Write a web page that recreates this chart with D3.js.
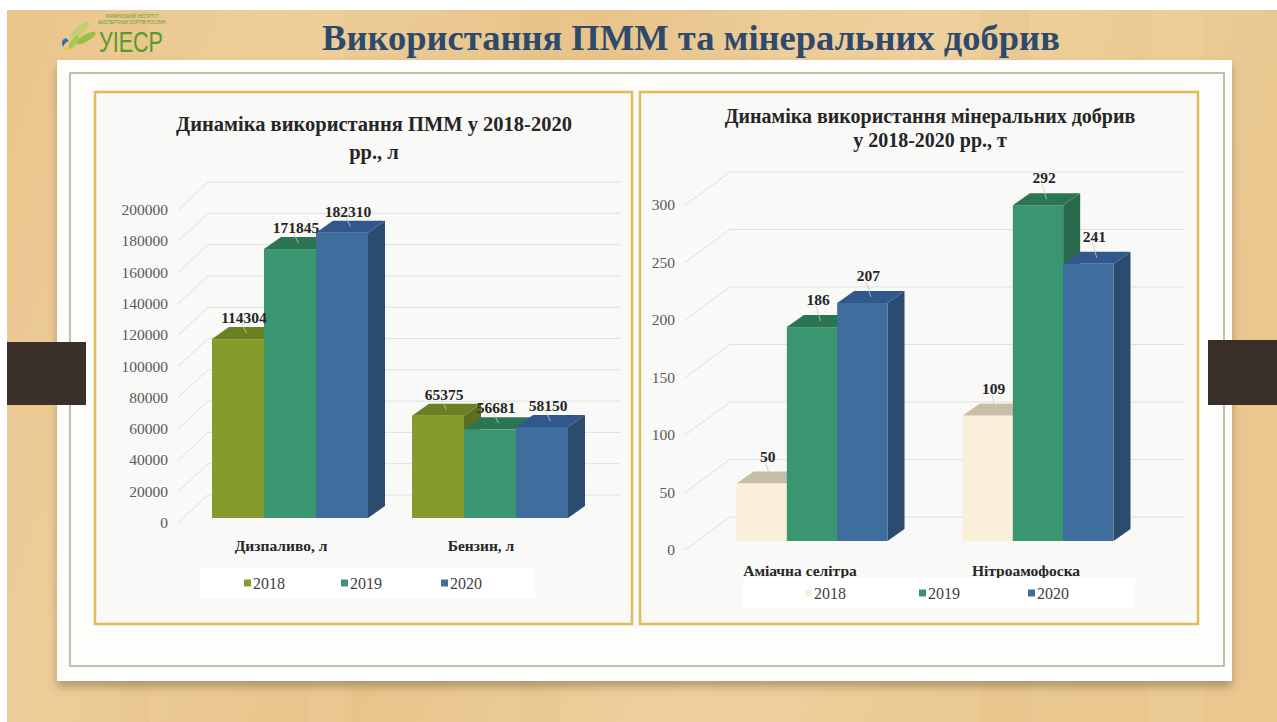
<!DOCTYPE html>
<html>
<head>
<meta charset="utf-8">
<script src="https://cdn.jsdelivr.net/npm/d3@7"></script>
<style>
  body { margin: 0; background: #fff; }
  svg { display: block; }
</style>
</head>
<body>
<svg id="slide" width="1277" height="722"></svg>
<script>
// ---- data ----
const mainTitle = "Використання ПММ та мінеральних добрив";
const years = ["2018", "2019", "2020"];

const fuelCategories = ["Дизпаливо, л", "Бензин, л"];
const fuel2018 = [114304, 65375];
const fuel2019 = [171845, 56681];
const fuel2020 = [182310, 58150];
const fuelTicks = [0, 20000, 40000, 60000, 80000, 100000, 120000, 140000, 160000, 180000, 200000];

const fertCategories = ["Аміачна селітра", "Нітроамофоска"];
const fert2018 = [50, 109];
const fert2019 = [186, 292];
const fert2020 = [207, 241];
const fertTicks = [0, 50, 100, 150, 200, 250, 300];

const serif = "'Liberation Serif', 'DejaVu Serif', serif";

let svg = d3.select("#slide");
let defs = svg.append("defs");

// wood background
let wood = defs.append("linearGradient").attr("id", "wood")
    .attr("x1", 0).attr("x2", 1).attr("y1", 0).attr("y2", 0.2);
[["0", "#e9c58c"], ["0.2", "#eecd98"], ["0.45", "#e8c48b"], ["0.7", "#efd09d"], ["1", "#e9c78f"]]
    .forEach(s => wood.append("stop").attr("offset", s[0]).attr("stop-color", s[1]));

let shadow = defs.append("filter").attr("id", "shadow")
    .attr("x", "-5%").attr("y", "-5%").attr("width", "110%").attr("height", "115%");
shadow.append("feDropShadow").attr("dx", 0).attr("dy", 6).attr("stdDeviation", 4)
    .attr("flood-color", "#6b5a40").attr("flood-opacity", 0.45);

svg.append("rect").attr("x", 7).attr("y", 10).attr("width", 1270).attr("height", 712)
    .attr("fill", "url(#wood)");

// a few faint grain streaks
[120, 310, 520, 760, 980, 1150].forEach((gx, i) => {
    svg.append("rect").attr("x", gx).attr("y", 10).attr("width", 30 + i * 5).attr("height", 712)
        .attr("fill", i % 2 ? "#f3d6a6" : "#e3bd82").attr("opacity", 0.2);
});

// white panel
svg.append("rect").attr("x", 57).attr("y", 60).attr("width", 1175).attr("height", 621)
    .attr("fill", "#fdfdfc").attr("filter", "url(#shadow)");
svg.append("rect").attr("x", 70).attr("y", 73).attr("width", 1154).attr("height", 593)
    .attr("fill", "none").attr("stroke", "#b3bd9c").attr("stroke-width", 1.8);

// brackets
svg.append("rect").attr("x", 7).attr("y", 342).attr("width", 79).attr("height", 63).attr("fill", "#3a2f29");
svg.append("rect").attr("x", 1208).attr("y", 340).attr("width", 69).attr("height", 65).attr("fill", "#3a2f29");

// logo
let logo = svg.append("g");
logo.append("ellipse").attr("cx", 80).attr("cy", 30).attr("rx", 12).attr("ry", 4)
    .attr("transform", "rotate(-40,80,30)").attr("fill", "#b8cf6a").attr("opacity", 0.8);
logo.append("ellipse").attr("cx", 86).attr("cy", 38).attr("rx", 11).attr("ry", 3.5)
    .attr("transform", "rotate(-30,86,38)").attr("fill", "#8fbf3c").attr("opacity", 0.9);
logo.append("ellipse").attr("cx", 74).attr("cy", 42).attr("rx", 8).attr("ry", 3)
    .attr("transform", "rotate(-55,74,42)").attr("fill", "#a6c853");
logo.append("path").attr("d", "M66,38 q-6,2 -3,9 q2,-5 6,-6 z").attr("fill", "#2a6fb5");
logo.append("path").attr("d", "M63,47 q3,3 8,1 l-2,2 q-4,1 -6,-3 z").attr("fill", "#e8c020");
logo.append("text").attr("x", 99).attr("y", 52).text("УІЕСР")
    .attr("font-family", "'Liberation Sans', sans-serif").attr("font-size", 30)
    .attr("textLength", 64).attr("lengthAdjust", "spacingAndGlyphs").attr("fill", "#579a28");
logo.append("text").attr("x", 132).attr("y", 18).text("УКРАЇНСЬКИЙ ІНСТИТУТ")
    .attr("font-family", "'Liberation Sans', sans-serif").attr("font-size", 4.5)
    .attr("text-anchor", "middle").attr("fill", "#5f9f2f");
logo.append("text").attr("x", 132).attr("y", 24).text("ЕКСПЕРТИЗИ СОРТІВ РОСЛИН")
    .attr("font-family", "'Liberation Sans', sans-serif").attr("font-size", 4.5)
    .attr("text-anchor", "middle").attr("fill", "#5f9f2f");

// main title
svg.append("text").attr("x", 691).attr("y", 50).text(mainTitle)
    .attr("font-family", serif).attr("font-weight", "bold").attr("font-size", 36.5)
    .attr("text-anchor", "middle").attr("fill", "#2d4a6c");

function drawChart(cfg) {
    let g = svg.append("g");
    let [bx0, by0, bx1, by1] = cfg.box;

    g.append("rect").attr("x", bx0).attr("y", by0).attr("width", bx1 - bx0).attr("height", by1 - by0)
        .attr("fill", "#f9f9f8").attr("stroke", "#e2bb58").attr("stroke-width", 2.5);

    cfg.title.forEach((t, i) => {
        g.append("text").attr("x", cfg.titleX).attr("y", cfg.titleY[i]).text(t)
            .attr("font-family", serif).attr("font-weight", "bold").attr("font-size", cfg.titleSize)
            .attr("text-anchor", "middle").attr("fill", "#262626");
    });

    let y = d3.scaleLinear().domain(cfg.yDomain).range(cfg.yRange);
    let x0 = d3.scaleBand().domain(cfg.categories).range(cfg.xRange);
    let x1 = d3.scaleBand().domain(years).range([0, cfg.groupWidth]);

    // gridlines: diagonal on the side, horizontal on the back wall
    let gx0 = cfg.labelX + 10;
    cfg.ticks.forEach(v => {
        g.append("line").attr("x1", gx0).attr("y1", y(v))
            .attr("x2", gx0 + cfg.back.dx).attr("y2", y(v) + cfg.back.dy)
            .attr("stroke", "#dedede").attr("stroke-width", 1);
        g.append("line").attr("x1", gx0 + cfg.back.dx).attr("y1", y(v) + cfg.back.dy)
            .attr("x2", cfg.gridEnd).attr("y2", y(v) + cfg.back.dy)
            .attr("stroke", "#e0e0e0").attr("stroke-width", 1);
        g.append("text").attr("x", cfg.labelX).attr("y", y(v) + 5).text(v)
            .attr("font-family", serif).attr("font-size", 15.5)
            .attr("text-anchor", "end").attr("fill", "#595959");
    });

    let d = cfg.depth;
    let off = cfg.barOffset;
    cfg.categories.forEach((cat, ci) => {
        let gxStart = x0(cat) + (x0.bandwidth() - cfg.groupWidth) / 2 + off.dx;
        cfg.series.forEach((vals, si) => {
            let v = vals[ci];
            let bx = gxStart + x1(years[si]);
            let w = x1.bandwidth();
            let yt = y(v) + off.dy, yb = y(0) + off.dy;
            g.append("polygon")
                .attr("points", [[bx + w, yt], [bx + w + d.dx, yt + d.dy], [bx + w + d.dx, yb + d.dy], [bx + w, yb]].join(" "))
                .attr("fill", cfg.sideColors[si]);
            g.append("polygon")
                .attr("points", [[bx, yt], [bx + d.dx, yt + d.dy], [bx + w + d.dx, yt + d.dy], [bx + w, yt]].join(" "))
                .attr("fill", cfg.topColors[si]);
            g.append("rect").attr("x", bx).attr("y", yt).attr("width", w).attr("height", yb - yt)
                .attr("fill", cfg.colors[si]);
        });
        // data labels after all bars of the group
        cfg.series.forEach((vals, si) => {
            let v = vals[ci];
            let bx = gxStart + x1(years[si]);
            let w = x1.bandwidth();
            let yt = y(v) + off.dy;
            let lx = bx + w / 2 + 6, ly = yt + d.dy - cfg.labelGap;
            g.append("line").attr("x1", bx + w / 2 + d.dx / 2).attr("y1", yt + d.dy / 2)
                .attr("x2", lx - 2).attr("y2", ly + 6)
                .attr("stroke", "#c8c8c8").attr("stroke-width", 0.8);
            g.append("text").attr("x", lx).attr("y", ly + 5).text(v)
                .attr("font-family", serif).attr("font-weight", "bold").attr("font-size", 15.5)
                .attr("text-anchor", "middle").attr("fill", "#262626");
        });
        g.append("text").attr("x", x0(cat) + x0.bandwidth() / 2 + cfg.catShift).attr("y", cfg.catY)
            .text(cat).attr("font-family", serif).attr("font-weight", "bold").attr("font-size", 15.5)
            .attr("text-anchor", "middle").attr("fill", "#262626");
    });

    // legend
    let L = cfg.legend;
    g.append("rect").attr("x", L.x).attr("y", L.y).attr("width", L.w).attr("height", L.h).attr("fill", "#ffffff");
    years.forEach((yr, i) => {
        g.append("rect").attr("x", L.items[i]).attr("y", L.textY - 3.5).attr("width", 7).attr("height", 7)
            .attr("fill", cfg.colors[i]);
        g.append("text").attr("x", L.items[i] + 9).attr("y", L.textY + 5.5).text(yr)
            .attr("font-family", serif).attr("font-size", 16).attr("fill", "#404040");
    });
}

drawChart({
    box: [95, 92, 632, 624],
    title: ["Динаміка використання ПММ у 2018-2020", "рр., л"],
    titleX: 374, titleY: [131, 159], titleSize: 20.5,
    categories: fuelCategories,
    series: [fuel2018, fuel2019, fuel2020],
    colors: ["#849c2c", "#3a9671", "#3f6d9d"],
    topColors: ["#6a8022", "#2c7553", "#30588a"],
    sideColors: ["#5c6f1e", "#2a6a4c", "#2b4b6f"],
    ticks: fuelTicks, yDomain: [0, 200000], yRange: [523, 210], labelX: 168,
    xRange: [190, 590], groupWidth: 156,
    back: { dx: 30, dy: -28 }, gridEnd: 620,
    barOffset: { dx: 0, dy: -5 }, depth: { dx: 17, dy: -12 },
    labelGap: 9,
    catY: 551, catShift: -9,
    legend: { x: 200, y: 568, w: 335, h: 30, items: [244, 341, 441], textY: 583 }
});

drawChart({
    box: [640, 92, 1198, 624],
    title: ["Динаміка використання мінеральних добрив", "у 2018-2020 рр., т"],
    titleX: 930, titleY: [123, 147], titleSize: 20,
    categories: fertCategories,
    series: [fert2018, fert2019, fert2020],
    colors: ["#faf0d9", "#3a9671", "#3f6d9d"],
    topColors: ["#c7bda8", "#2c7553", "#30588a"],
    sideColors: ["#d9cfb8", "#2a6a4c", "#2b4b6f"],
    ticks: fertTicks, yDomain: [0, 300], yRange: [550, 205], labelX: 675,
    xRange: [699, 1151], groupWidth: 151,
    back: { dx: 45, dy: -33 }, gridEnd: 1185,
    barOffset: { dx: 0, dy: -9 }, depth: { dx: 17, dy: -12 },
    labelGap: 15,
    catY: 576, catShift: -12,
    legend: { x: 743, y: 578, w: 392, h: 30, items: [805, 919, 1028], textY: 593 }
});
</script>
</body>
</html>
